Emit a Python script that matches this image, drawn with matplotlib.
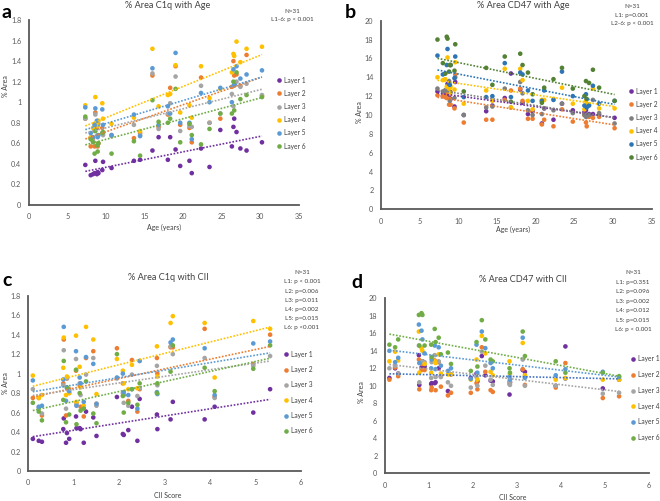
import numpy as np
import matplotlib
matplotlib.use("Agg")
import matplotlib.pyplot as plt
from matplotlib.lines import Line2D

plt.rcParams['font.family'] = ['Lato', 'DejaVu Sans']

layers = ["Layer 1", "Layer 2", "Layer 3", "Layer 4", "Layer 5", "Layer 6"]
colors_light = ["#7030A0", "#ED7D31", "#A5A5A5", "#FFC000", "#5B9BD5", "#70AD47"]
colors_dark = ["#7030A0", "#ED7D31", "#7F7F7F", "#FFC000", "#2E75B6", "#548235"]

# ---- Panel a: % Area C1q vs Age ----
ages = [7.3, 8.0, 8.3, 8.5, 8.6, 8.8, 8.9, 9.0, 9.5, 9.6, 10.7, 13.6, 14.4, 16.0, 16.8, 18.0,
        18.3, 19.0, 19.6, 20.8, 21.1, 22.3, 23.4, 24.8, 26.3, 26.5, 26.6, 26.9, 27.4, 28.2, 30.2]
c1q_age = [
    [.39, .29, .30, .31, .43, .30, .32, .31, .34, .42, .36, .43, .44, .53, .66, .44, .66, .54, .38, .43, .31, .55, .37, .73, .57, .76, .84, .71, .55, .53, .61],
    [.84, .57, .65, .57, .90, .75, .57, .60, .75, .70, .68, .65, .70, 1.26, .76, .88, 1.14, 1.35, .78, .75, .61, 1.24, .80, .84, 1.15, 1.40, 1.26, 1.27, 1.16, 1.46, 1.06],
    [.84, .65, .62, .72, .88, .77, .68, .79, .70, .68, .67, .78, .68, 1.28, .74, .89, .99, 1.25, .72, .77, .76, 1.16, .80, .89, 1.08, .96, 1.16, 1.20, 1.15, 1.18, 1.07],
    [.97, .66, .75, .79, 1.05, .80, .77, .82, .99, .84, .79, .85, .72, 1.52, .96, 1.07, 1.08, 1.36, .90, .97, .85, 1.35, 1.04, 1.13, 1.29, 1.47, 1.45, 1.59, 1.39, 1.52, 1.54],
    [.95, .70, .66, .78, .94, .82, .66, .68, .93, .78, .68, .88, .67, 1.33, .78, .96, .89, 1.48, .80, .80, .64, 1.09, 1.00, 1.14, 1.00, 1.32, 1.17, 1.35, 1.23, 1.27, 1.31],
    [.86, .64, .61, .50, .72, .58, .52, .60, .70, .71, .50, .62, .48, 1.02, .81, .80, .84, 1.13, .61, .79, .68, .59, .74, .89, .89, 1.20, .92, 1.29, 1.03, 1.07, 1.05],
]

# ---- Panel b: % Area CD47 vs Age ----
cd47_age = [
    [12.5, 12.0, 12.6, 12.2, 13.3, 11.9, 12.5, 11.7, 10.9, 13.5, 10.0, 10.4, 11.0, 11.8, 14.4, 12.7, 11.3, 10.1, 10.4, 9.1, 10.7, 9.5, 11.2, 10.5, 10.3, 10.5, 9.9, 10.1, 10.1, 10.0, 9.7],
    [12.1, 12.0, 12.2, 11.8, 12.5, 11.1, 11.7, 11.1, 10.7, 14.3, 9.2, 9.5, 9.5, 11.6, 12.6, 12.8, 11.5, 9.6, 9.6, 9.0, 9.5, 8.8, 10.6, 9.3, 10.0, 9.2, 8.8, 9.8, 9.7, 9.8, 8.6],
    [12.8, 12.5, 12.6, 12.7, 13.0, 13.6, 11.5, 12.4, 11.8, 14.0, 10.0, 10.8, 10.9, 12.8, 10.8, 13.5, 12.3, 10.5, 10.0, 10.1, 10.7, 10.5, 11.2, 10.2, 10.0, 9.8, 9.9, 10.0, 11.6, 10.2, 9.1],
    [14.0, 13.7, 13.8, 13.0, 16.1, 12.8, 12.3, 13.0, 12.7, 15.6, 11.2, 12.6, 11.5, 14.9, 10.8, 14.9, 13.7, 11.5, 10.6, 11.6, 11.6, 11.7, 12.9, 11.2, 10.6, 11.5, 11.2, 11.1, 12.8, 10.7, 10.7],
    [16.3, 14.3, 14.4, 15.3, 17.0, 13.3, 13.2, 15.3, 13.9, 16.2, 11.9, 11.9, 12.0, 15.5, 11.9, 14.5, 14.3, 12.6, 11.5, 11.5, 12.6, 11.6, 14.6, 12.0, 11.0, 12.2, 10.8, 11.0, 13.1, 11.2, 11.5],
    [18.0, 15.5, 14.4, 18.3, 18.1, 14.6, 15.3, 15.3, 14.7, 17.5, 12.5, 15.0, 13.2, 16.2, 11.4, 16.5, 15.3, 14.5, 12.2, 11.3, 12.9, 13.8, 15.0, 12.8, 12.0, 13.6, 11.7, 13.4, 14.8, 12.9, 11.5],
]

# ---- Panel c: % Area C1q vs CII ----
cii = [0.1, 0.23, 0.3, 0.77, 0.78, 0.83, 0.85, 0.9, 1.05, 1.06, 1.13, 1.15, 1.22, 1.27, 1.43, 1.5,
       1.95, 2.08, 2.1, 2.2, 2.28, 2.4, 2.45, 2.83, 2.84, 3.13, 3.18, 3.88, 4.1, 4.95, 5.32]
c1q_cii = [
    [.33, .31, .30, .43, .54, .29, .39, .33, .56, .44, .44, .43, .29, .61, .55, .36, .76, .38, .37, .42, .66, .31, .74, .58, .43, .53, .71, .53, .66, .60, .84],
    [.75, .75, .57, .90, 1.35, .57, .95, .84, 1.03, .70, .88, .66, .56, 1.16, 1.23, .69, 1.26, .90, .78, .72, 1.14, .61, .84, 1.16, 1.00, 1.27, 1.27, 1.46, .76, 1.10, 1.40],
    [.84, .65, .59, .88, 1.24, .64, .95, .80, 1.15, .68, .90, .78, .65, .99, 1.16, .67, .95, .80, .70, .67, .99, .77, .85, 1.08, .88, 1.28, 1.20, 1.16, .75, 1.08, 1.18],
    [.98, .75, .78, 1.06, 1.37, .78, .97, .80, 1.39, .71, 1.07, .86, .67, 1.48, 1.35, .79, 1.15, 1.03, .90, .84, 1.09, .85, 1.13, 1.28, .97, 1.52, 1.59, 1.52, .96, 1.54, 1.46],
    [.93, .66, .67, .94, 1.48, .72, .85, .82, 1.23, .67, .96, .90, .71, 1.17, 1.10, .69, .96, 1.00, .81, .78, .84, .64, 1.13, .81, .79, 1.32, 1.35, 1.26, .78, 1.31, 1.33],
    [.70, .61, .52, .73, 1.13, .50, .86, .58, 1.04, .48, .80, .62, .64, .92, .59, .49, 1.20, .77, .60, .70, .84, .68, .90, .80, .90, 1.02, 1.29, 1.06, .82, 1.05, 1.29],
]

# ---- Panel d: % Area CD47 vs CII ----
cd47_cii = [
    [10.9, 12.0, 11.4, 13.5, 10.1, 12.1, 12.8, 12.2, 10.2, 10.3, 10.3, 10.4, 12.0, 11.1, 9.4, 11.3, 10.9, 11.4, 10.5, 13.4, 11.2, 10.6, 10.5, 9.0, 10.4, 11.8, 11.6, 10.0, 14.5, 9.7, 10.7],
    [10.7, 12.1, 11.1, 13.0, 9.6, 11.8, 12.5, 11.8, 9.5, 9.8, 12.9, 9.5, 12.7, 9.9, 8.9, 9.2, 9.2, 10.3, 9.6, 14.4, 11.6, 9.5, 9.3, 10.2, 10.4, 11.9, 10.1, 9.8, 12.6, 8.6, 8.8],
    [12.0, 12.3, 11.4, 14.6, 10.4, 12.7, 12.8, 12.7, 10.9, 12.7, 13.5, 11.0, 12.8, 11.0, 10.4, 10.0, 9.8, 11.0, 10.0, 13.9, 12.3, 10.7, 10.1, 10.5, 10.1, 13.0, 10.0, 10.0, 10.8, 9.1, 9.2],
    [12.8, 13.9, 12.9, 16.2, 11.5, 14.3, 14.0, 12.5, 11.5, 13.2, 12.8, 12.6, 13.6, 11.4, 11.3, 11.3, 10.7, 13.0, 10.7, 15.7, 13.7, 11.6, 11.2, 12.8, 11.3, 14.9, 11.2, 10.7, 10.9, 10.7, 10.7],
    [14.0, 12.7, 13.2, 17.0, 12.6, 16.3, 15.3, 13.7, 12.0, 13.0, 14.6, 11.9, 14.4, 12.3, 11.7, 12.0, 10.8, 14.7, 11.5, 16.2, 14.3, 12.6, 12.0, 11.0, 10.7, 15.5, 10.9, 11.2, 11.9, 11.6, 11.0],
    [14.7, 14.4, 15.3, 18.1, 14.6, 18.3, 18.1, 14.6, 14.7, 13.3, 16.5, 15.0, 15.5, 13.6, 13.8, 12.5, 11.7, 15.0, 12.2, 17.5, 15.3, 13.0, 12.8, 12.0, 11.5, 16.2, 13.4, 12.8, 11.5, 11.5, 11.1],
]

stats_a = ["N=31", "L1-6: p < 0.001"]
stats_b = ["N=31", "L1: p=0.001", "L2-6: p < 0.001"]
stats_c = ["N=31", "L1: p < 0.001", "L2: p=0.006", "L3: p=0.011", "L4: p=0.002", "L5: p=0.015", "L6: p <0.001"]
stats_d = ["N=31", "L1: p=0.351", "L2: p=0.096", "L3: p=0.002", "L4: p=0.012", "L5: p=0.015", "L6: p < 0.001"]

W, H = 660, 501
fig = plt.figure(figsize=(W / 100, H / 100), dpi=100)

def fx(px):
    return px / W

def fy(py):
    return 1 - py / H

axis_col = "#595959"
tick_col = "#595959"
text_col = "#404040"
TITLE_FS = 6.6
LABEL_FS = 5.0
TICK_FS = 5.2
LEG_FS = 4.8
STAT_FS = 4.5

def make_axes(l, r, t, b, xmax, xstep, ymax, ystep, yfmt):
    ax = fig.add_axes([fx(l), fy(b), fx(r) - fx(l), fy(t) - fy(b)])
    ax.set_xlim(0, xmax)
    ax.set_ylim(0, ymax)
    ax.set_xticks(np.arange(0, xmax + 0.001, xstep))
    yt = np.arange(0, ymax + 0.0001, ystep)
    ax.set_yticks(yt)
    ax.set_yticklabels([yfmt(v) for v in yt])
    for s in ["top", "right"]:
        ax.spines[s].set_visible(False)
    for s in ["left", "bottom"]:
        ax.spines[s].set_color(axis_col)
        ax.spines[s].set_linewidth(1.3)
    ax.tick_params(length=0, labelsize=TICK_FS, labelcolor=tick_col, pad=6)
    ax.tick_params(axis="y", pad=5.5)
    ax.set_facecolor("none")
    return ax

def fmt_c1q(v):
    s = f"{v:.1f}"
    if s.endswith(".0"):
        s = s[:-2]
    return s

def fmt_int(v):
    return f"{int(round(v))}"

def draw_panel(ax, x, ys, cols, line_cols, line_layers):
    x = np.asarray(x)
    for i, y in enumerate(ys):
        ax.scatter(x, y, s=11, color=cols[i], edgecolors="none", zorder=3, label=layers[i])
    xs = np.array([x.min(), x.max()])
    for i, y in enumerate(ys):
        if i not in line_layers:
            continue
        k, c = np.polyfit(x, y, 1)
        ax.plot(xs, k * xs + c, linestyle=(0, (1, 1)), color=line_cols[i], lw=1.2, zorder=4)

def add_legend(ax, cols, x_px, y_px, spacing):
    handles = [Line2D([], [], marker="o", linestyle="none", markersize=3.3,
                      markerfacecolor=c, markeredgecolor="none") for c in cols]
    ax.legend(handles, layers, loc="upper left", bbox_to_anchor=(fx(x_px), fy(y_px)),
              bbox_transform=fig.transFigure, frameon=False, fontsize=LEG_FS,
              handlelength=0.6, handletextpad=0.5, labelspacing=spacing,
              borderpad=0, borderaxespad=0, labelcolor=text_col)

def stats_text(lines, x_px, y_px, step):
    for j, s in enumerate(lines):
        fig.text(fx(x_px), fy(y_px + j * step), s, ha="center", va="center", fontsize=STAT_FS, color=text_col)

# Panel a
ax_a = make_axes(29, 299, 20, 205, 35, 5, 1.8, 0.2, fmt_c1q)
draw_panel(ax_a, ages, c1q_age, colors_light, colors_light, range(6))
add_legend(ax_a, colors_light, 277, 76.5, 0.93)
stats_text(stats_a, 292, 11.7, 7.8)
fig.text(fx(168), fy(6), "% Area C1q with Age", ha="center", va="center", fontsize=TITLE_FS, color=text_col)
fig.text(fx(164), fy(227), "Age (years)", ha="center", va="center", fontsize=LABEL_FS, color=text_col)
fig.text(fx(5.5), fy(86), "% Area", ha="center", va="center", rotation=90, fontsize=LABEL_FS, color=text_col)
fig.text(fx(2), fy(13), "a", ha="left", va="center", fontsize=14, fontweight="bold")

# Panel b
ax_b = make_axes(381, 651.7, 20.7, 209.3, 35, 5, 20, 2, fmt_int)
draw_panel(ax_b, ages, cd47_age, colors_dark, colors_dark, range(6))
add_legend(ax_b, colors_dark, 629, 87.5, 0.93)
stats_text(stats_b, 632, 6.5, 8.7)
fig.text(fx(523), fy(6), "% Area CD47 with Age", ha="center", va="center", fontsize=TITLE_FS, color=text_col)
fig.text(fx(513), fy(229), "Age (years)", ha="center", va="center", fontsize=LABEL_FS, color=text_col)
fig.text(fx(360), fy(112), "% Area", ha="center", va="center", rotation=90, fontsize=LABEL_FS, color=text_col)
fig.text(fx(350), fy(13), "b", ha="center", va="center", fontsize=14, fontweight="bold")

# Panel c
ax_c = make_axes(28.3, 301, 295.7, 471, 6, 1, 1.8, 0.2, fmt_c1q)
draw_panel(ax_c, cii, c1q_cii, colors_light, colors_light, range(6))
add_legend(ax_c, colors_light, 284, 350.5, 1.26)
stats_text(stats_c, 302, 272.7, 9.2)
fig.text(fx(168), fy(277), "% Area C1q with CII", ha="center", va="center", fontsize=TITLE_FS, color=text_col)
fig.text(fx(168), fy(496), "CII Score", ha="center", va="center", fontsize=LABEL_FS, color=text_col)
fig.text(fx(5.5), fy(383), "% Area", ha="center", va="center", rotation=90, fontsize=LABEL_FS, color=text_col)
fig.text(fx(2), fy(280), "c", ha="left", va="center", fontsize=14, fontweight="bold")

# Panel d
line_cols_d = ["#4472C4"] + colors_light[1:]
ax_d = make_axes(385, 649, 298.3, 473.3, 6, 1, 20, 2, fmt_int)
draw_panel(ax_d, cii, cd47_cii, colors_light, line_cols_d, [0, 2, 4, 5])
add_legend(ax_d, colors_light, 631, 355.5, 1.31)
stats_text(stats_d, 633, 272.7, 9.5)
fig.text(fx(523), fy(279), "% Area CD47 with CII", ha="center", va="center", fontsize=TITLE_FS, color=text_col)
fig.text(fx(513), fy(497), "CII Score", ha="center", va="center", fontsize=LABEL_FS, color=text_col)
fig.text(fx(362), fy(392), "% Area", ha="center", va="center", rotation=90, fontsize=LABEL_FS, color=text_col)
fig.text(fx(357), fy(282), "d", ha="center", va="center", fontsize=14, fontweight="bold")

fig.savefig("out.png", dpi=100)
